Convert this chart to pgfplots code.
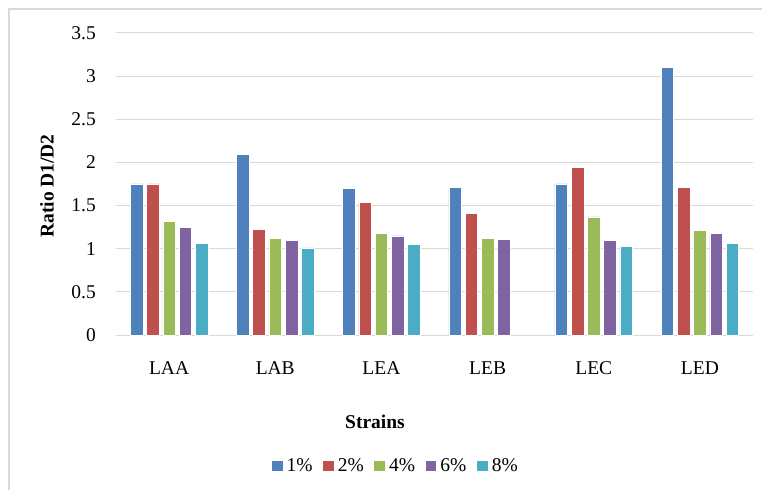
\documentclass[border=0pt]{standalone}
\usepackage{fontspec}
\setmainfont{Liberation Serif}
\usepackage{pgfplots}
\pgfplotsset{compat=1.18}
\definecolor{c1}{HTML}{4F81BD}
\definecolor{c2}{HTML}{C0504D}
\definecolor{c3}{HTML}{9BBB59}
\definecolor{c4}{HTML}{8064A2}
\definecolor{c5}{HTML}{4BACC6}
\definecolor{gridgray}{HTML}{D9D9D9}
\newcommand\chfont{\fontsize{19.5}{23.4}\selectfont}
\begin{document}
\begin{tikzpicture}[x=1pt,y=1pt]
\useasboundingbox (0,0) rectangle (762,490);
\draw[gridgray, line width=1.5pt] (9,0) -- (9,481) -- (762,481);
\begin{axis}[
  at={(116pt,155pt)}, anchor=south west,
  scale only axis, width=637pt, height=302pt,
  ybar, bar width=12.6pt,
  xmin=-0.5, xmax=5.5, ymin=0, ymax=3.5,
  xtick={0,1,2,3,4,5},
  xticklabels={LAA,LAB,LEA,LEB,LEC,LED},
  ytick={0,0.5,1,1.5,2,2.5,3,3.5},
  yticklabels={0,0.5,1,1.5,2,2.5,3,3.5},
  major tick length=0pt,
  axis lines*=left,
  x axis line style={gridgray, line width=1pt, -},
  y axis line style={draw=none},
  ymajorgrids, grid style={gridgray, line width=1pt},
  /pgf/number format/assume math mode=true,
  tick label style={font=\chfont, text=black},
  yticklabel style={anchor=east, inner sep=0pt, xshift=-20pt},
  xticklabel style={anchor=center, inner sep=0pt, yshift=-33pt},
  xlabel={\textbf{Strains}},
  xlabel style={font=\chfont, at={(rel axis cs:0.4066,-0.288)}, anchor=center},
  ylabel={\textbf{Ratio D1/D2}},
  ylabel style={font=\chfont, at={(rel axis cs:-0.1083,0.4934)}, anchor=center},
  legend columns=-1,
  legend style={font=\chfont, draw=none, inner sep=0pt,
    at={(rel axis cs:0.2444,-0.4338)}, anchor=west,
    nodes={inner sep=0pt},
    /tikz/every odd column/.append style={column sep=4pt},
    /tikz/every even column/.append style={column sep=10.6pt}},
  legend image code/.code={\fill[#1,draw=none] (0pt,-5.35pt) rectangle (10.7pt,5.35pt);},
  every axis plot/.append style={draw=white, line width=0.5pt},
]
\addplot[fill=c1, bar shift=-32.5pt] coordinates {(0,1.75) (1,2.09) (2,1.70) (3,1.71) (4,1.75) (5,3.10)};
\addplot[fill=c2, bar shift=-16.25pt] coordinates {(0,1.75) (1,1.22) (2,1.54) (3,1.41) (4,1.94) (5,1.71)};
\addplot[fill=c3, bar shift=0pt] coordinates {(0,1.32) (1,1.12) (2,1.18) (3,1.12) (4,1.37) (5,1.21)};
\addplot[fill=c4, bar shift=16.25pt] coordinates {(0,1.25) (1,1.10) (2,1.15) (3,1.11) (4,1.10) (5,1.18)};
\addplot[fill=c5, bar shift=32.5pt] coordinates {(0,1.06) (1,1.01) (2,1.05) (4,1.03) (5,1.06)};
\legend{1\%,2\%,4\%,6\%,8\%}
\end{axis}
\end{tikzpicture}
\end{document}
